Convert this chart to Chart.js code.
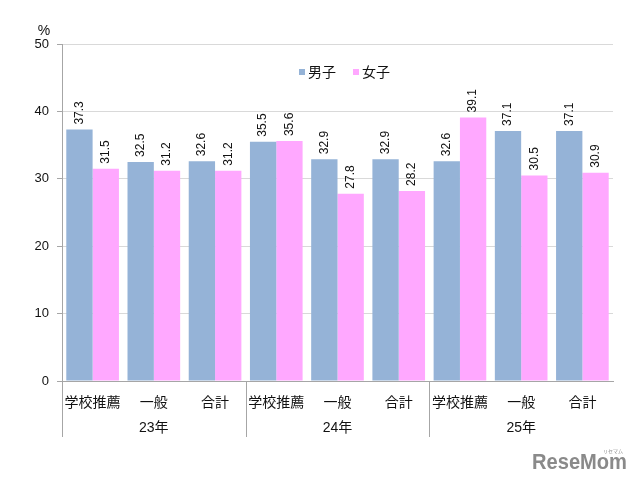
<!DOCTYPE html>
<html>
<head>
<meta charset="utf-8">
<script src="https://cdn.jsdelivr.net/npm/chart.js@4/dist/chart.umd.min.js"></script>
<style>
  html, body { margin: 0; padding: 0; background: #fff; }
  #wrap { position: relative; width: 640px; height: 483px; }
</style>
</head>
<body>
<div id="wrap"><canvas id="chart" width="640" height="483"></canvas></div>
<script>
// Data
const categories = ['学校推薦', '一般', '合計', '学校推薦', '一般', '合計', '学校推薦', '一般', '合計'];
const years = ['23年', '24年', '25年'];
const boys = [37.3, 32.5, 32.6, 35.5, 32.9, 32.9, 32.6, 37.1, 37.1];
const girls = [31.5, 31.2, 31.2, 35.6, 27.8, 28.2, 39.1, 30.5, 30.9];
const yTicks = [0, 10, 20, 30, 40, 50];

const FONT = '"Liberation Sans", "Noto Sans CJK JP", sans-serif';

// value labels, rotated, above each bar
const barLabels = {
    id: 'barLabels',
    afterDatasetsDraw(chart) {
        const ctx = chart.ctx;
        ctx.save();
        ctx.font = '12px ' + FONT;
        ctx.fillStyle = '#111';
        ctx.textAlign = 'left';
        ctx.textBaseline = 'middle';
        chart.data.datasets.forEach((ds, i) => {
            chart.getDatasetMeta(i).data.forEach((bar, j) => {
                ctx.save();
                ctx.translate(bar.x, bar.y - 5);
                ctx.rotate(-Math.PI / 2);
                ctx.fillText(ds.data[j].toFixed(1), 0, 0);
                ctx.restore();
            });
        });
        ctx.restore();
    }
};

// year groups, separators, legend, unit and logo
const extras = {
    id: 'extras',
    afterDraw(chart) {
        const ctx = chart.ctx;
        const x = chart.scales.x;
        const area = chart.chartArea;
        ctx.save();
        // separators + year labels
        ctx.strokeStyle = '#a6a6a6';
        ctx.lineWidth = 1;
        const per = categories.length / years.length;
        const step = x.getPixelForValue(1) - x.getPixelForValue(0);
        for (let g = 0; g < years.length; g++) {
            const left = x.getPixelForValue(g * per) - step / 2;
            const lx = Math.round(left) + 0.5;
            ctx.beginPath();
            ctx.moveTo(lx, area.bottom);
            ctx.lineTo(lx, area.bottom + 56);
            ctx.stroke();
            const mid = (x.getPixelForValue(g * per) + x.getPixelForValue(g * per + per - 1)) / 2;
            ctx.font = '14px ' + FONT;
            ctx.fillStyle = '#111';
            ctx.textAlign = 'center';
            ctx.textBaseline = 'middle';
            ctx.fillText(years[g], mid, area.bottom + 47);
        }
        // unit
        ctx.font = '14px ' + FONT;
        ctx.textAlign = 'center';
        ctx.fillText('%', 44, 31);
        // legend
        let lx = 299;
        const ly = 72;
        chart.data.datasets.forEach(ds => {
            ctx.fillStyle = ds.backgroundColor;
            ctx.fillRect(lx, ly - 3, 6, 6);
            ctx.fillStyle = '#111';
            ctx.font = '14px ' + FONT;
            ctx.textAlign = 'left';
            ctx.fillText(ds.label, lx + 9, ly + 1);
            lx += 54;
        });
        // logo
        ctx.font = 'bold 22px "Liberation Sans", sans-serif';
        ctx.fillStyle = '#8a8a8a';
        ctx.textAlign = 'left';
        const w = ctx.measureText('ReseMom').width;
        ctx.save();
        ctx.translate(532, 463);
        ctx.scale(95 / w, 1);
        ctx.fillText('ReseMom', 0, 0);
        ctx.restore();
        ctx.font = '5px "Noto Sans CJK JP", sans-serif';
        ctx.textAlign = 'center';
        ctx.fillText('リセマム', 613, 451);
        ctx.restore();
    }
};

new Chart(document.getElementById('chart'), {
    type: 'bar',
    data: {
        labels: categories,
        datasets: [
            { label: '男子', data: boys, backgroundColor: '#95b3d7' },
            { label: '女子', data: girls, backgroundColor: '#ffa8ff' }
        ]
    },
    options: {
        responsive: false,
        animation: false,
        layout: { padding: { top: 44, right: 27, bottom: 0, left: 0 } },
        datasets: { bar: { categoryPercentage: 0.86, barPercentage: 1.0 } },
        plugins: { legend: { display: false }, tooltip: { enabled: false } },
        scales: {
            x: {
                grid: { display: false, drawTicks: false },
                border: { color: '#a6a6a6' },
                ticks: { color: '#111', font: { size: 14, family: FONT }, padding: 14, maxRotation: 0, autoSkip: false },
                afterFit(scale) { scale.height = 102; }
            },
            y: {
                min: 0,
                max: 50,
                afterBuildTicks(scale) { scale.ticks = yTicks.map(v => ({ value: v })); },
                grid: { color: '#d9d9d9', tickLength: 5, tickColor: '#a6a6a6' },
                border: { color: '#a6a6a6' },
                ticks: { color: '#111', font: { size: 13, family: FONT }, padding: 8 },
                afterFit(scale) { scale.width = 62; }
            }
        }
    },
    plugins: [barLabels, extras]
});
</script>
</body>
</html>
